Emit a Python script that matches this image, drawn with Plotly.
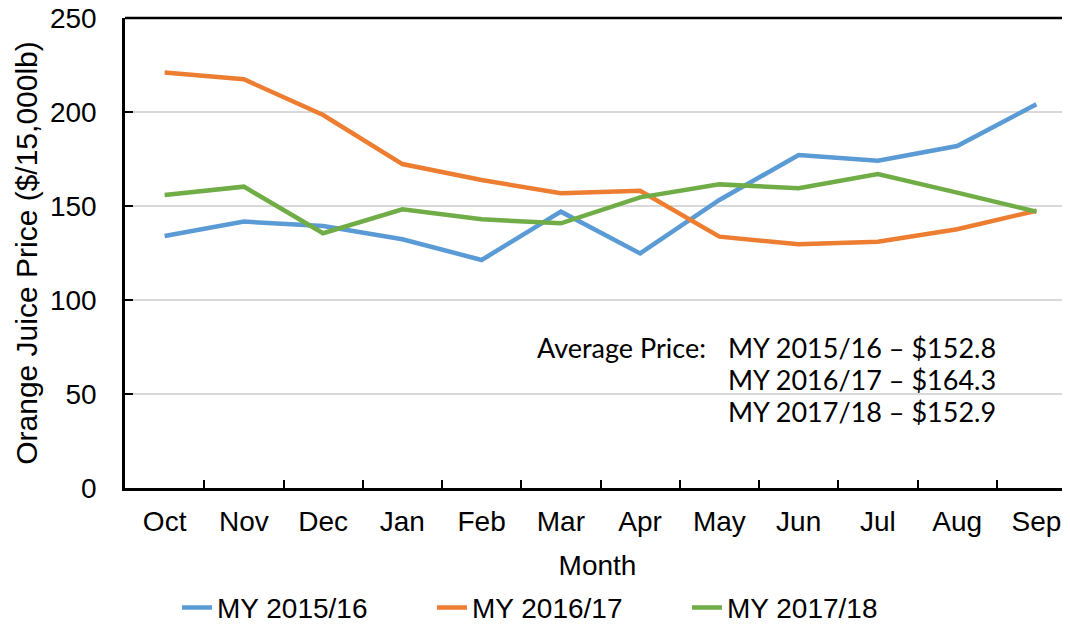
import plotly.graph_objects as go

months = ["Oct", "Nov", "Dec", "Jan", "Feb", "Mar", "Apr", "May", "Jun", "Jul", "Aug", "Sep"]
my_2015_16 = [134.0, 141.7, 139.4, 132.3, 121.3, 147.0, 124.8, 153.2, 177.1, 174.1, 181.9, 204.1]
my_2016_17 = [221.0, 217.4, 198.4, 172.3, 163.8, 156.8, 158.1, 133.7, 129.6, 131.0, 137.6, 147.5]
my_2017_18 = [155.9, 160.3, 135.5, 148.2, 142.9, 140.8, 154.6, 161.5, 159.4, 167.0, 157.1, 147.0]
series_names = ["MY 2015/16", "MY 2016/17", "MY 2017/18"]
colors = ["#5B9BD5", "#ED7D31", "#70AD47"]
avg_label = "Average Price:"
avg_lines = ["MY 2015/16 – $152.8", "MY 2016/17 – $164.3", "MY 2017/18 – $152.9"]

FONT = "Liberation Sans, Arial, sans-serif"
FS = 28

fig = go.Figure()
for name, vals, c in zip(series_names, [my_2015_16, my_2016_17, my_2017_18], colors):
    fig.add_trace(go.Scatter(x=months, y=vals, mode="lines", name=name,
                             line=dict(color=c, width=4.5)))

# page body has an 8px margin, so the figure is sized to fit the 1070x629 window
fig.update_layout(
    width=1062, height=621,
    margin=dict(l=117, r=0, t=10, b=141, autoexpand=False),
    paper_bgcolor="white", plot_bgcolor="white",
    font=dict(family=FONT, size=FS, color="#000000"),
    legend=dict(orientation="h", x=0.055, xanchor="left", y=-0.255, yanchor="middle",
                font=dict(size=FS), entrywidth=210, entrywidthmode="pixels",
                tracegroupgap=0, traceorder="normal"),
    showlegend=True,
)

fig.update_xaxes(
    type="category", range=[-0.5, 11.424], automargin=False,
    showline=True, linecolor="black", linewidth=2.5,
    ticks="inside", ticklen=8, tickwidth=2, tickcolor="black",
    tickson="boundaries", showgrid=False,
    tickfont=dict(size=FS), ticklabelstandoff=7,
    title=dict(text="Month", font=dict(size=FS), standoff=20),
)
fig.update_yaxes(
    range=[0, 250], tickvals=[0, 50, 100, 150, 200, 250], automargin=False,
    showline=True, linecolor="black", linewidth=2.5,
    ticks="inside", ticklen=8, tickwidth=2, tickcolor="black",
    showgrid=True, gridcolor="#d9d9d9", gridwidth=2,
    zeroline=False, ticklabeloverflow="allow",
    tickfont=dict(size=FS), ticklabelstandoff=20,
    title=dict(text="Orange Juice Price ($/15,000lb)", font=dict(size=30), standoff=4),
)

fig.add_shape(type="line", xref="paper", yref="paper", x0=0, x1=1, y0=1, y1=1,
              line=dict(color="black", width=2.5))

ann_font = dict(family="Lato, Open Sans, sans-serif", size=27, color="#000000")
fig.add_annotation(xref="paper", yref="paper", x=0.617, y=0.298, text=avg_label,
                   showarrow=False, xanchor="right", yanchor="middle", font=ann_font)
for i, t in enumerate(avg_lines):
    fig.add_annotation(xref="paper", yref="paper", x=0.636, y=0.298 - i * 0.068, text=t,
                       showarrow=False, xanchor="left", yanchor="middle", font=ann_font)

fig.write_html("out.html")
